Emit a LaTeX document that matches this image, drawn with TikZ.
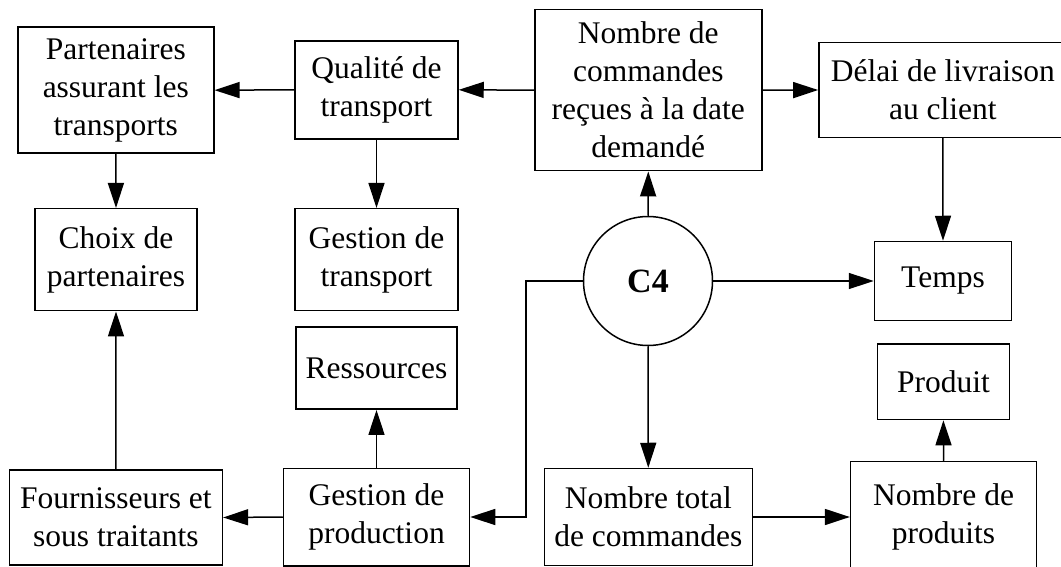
\documentclass[tikz,border=0pt]{standalone}
\usepackage{fontspec}
\setmainfont{Liberation Serif}
\usetikzlibrary{arrows.meta}
\begin{document}
\begin{tikzpicture}[x=1pt,y=-1pt,
  box/.style={draw, line width=1.5pt, align=center, inner sep=0pt,
    font=\fontsize{31.5}{38}\selectfont},
  conn/.style={line width=1.5pt, -{Triangle[length=25pt,width=16pt]}},
  plain/.style={line width=1.5pt}]
\useasboundingbox (0,0) rectangle (1061,567);
\fill[white] (0,0) rectangle (1061,567);
% nodes
\node[box, minimum width=196pt, minimum height=126pt] (part) at (115.8,90.2) {Partenaires\\assurant les\\transports};
\node[box, minimum width=163pt, minimum height=98pt] (qual) at (376.5,89.8) {Qualité de\\transport};
\node[box, minimum width=227pt, minimum height=161pt] (ncmd) at (648.3,90.2) {Nombre de\\commandes\\reçues à la date\\demandé};
\node[box, minimum width=248pt, minimum height=95pt] (delai) at (942.9,90) {Délai de livraison\\au client};
\node[box, minimum width=162pt, minimum height=102pt] (choix) at (116,259.7) {Choix de\\partenaires};
\node[box, minimum width=163pt, minimum height=102pt] (gtrans) at (376.5,259.7) {Gestion de\\transport};
\node[draw, circle, line width=1.5pt, minimum size=129pt, inner sep=0pt,
  font=\fontsize{34}{40}\selectfont\bfseries] (c4) at (648,281) {C4};
\node[box, minimum width=137pt, minimum height=79pt] (temps) at (943,281) {Temps};
\node[box, minimum width=161pt, minimum height=82pt] (ress) at (376.5,368.2) {Ressources};
\node[box, minimum width=132pt, minimum height=75.5pt] (produit) at (943.4,381.8) {Produit};
\node[box, minimum width=213pt, minimum height=95pt] (fourn) at (115.9,517.5) {Fournisseurs et\\sous traitants};
\node[box, minimum width=186pt, minimum height=97.5pt] (gprod) at (376.5,517) {Gestion de\\production};
\node[box, minimum width=208pt, minimum height=97pt] (ntot) at (648.3,517) {Nombre total\\de commandes};
\node[box, minimum width=186pt, minimum height=111pt] (nprod) at (943.6,517) {Nombre de\\produits};
\coordinate (corner) at (526.2,281);
% connectors
\draw[conn] (qual.west) -- (part.east);
\draw[conn] (ncmd.west) -- (qual.east);
\draw[conn] (ncmd.east) -- (delai.west);
\draw[conn] (part.south) -- (choix.north);
\draw[conn] (qual.south) -- (gtrans.north);
\draw[conn] (c4.north) -- (ncmd.south);
\draw[conn] (delai.south) -- (temps.north);
\draw[conn] (c4.east) -- (temps.west);
\draw[conn] (c4.west) -- (corner) |- (gprod.east);
\draw[conn] (c4.south) -- (ntot.north);
\draw[conn] (ntot.east) -- (nprod.west);
\draw[conn] (nprod.north) -- (produit.south);
\draw[conn] (gprod.north) -- (ress.south);
\draw[conn] (gprod.west) -- (fourn.east);
\draw[conn] (fourn.north) -- (choix.south);
\end{tikzpicture}
\end{document}
